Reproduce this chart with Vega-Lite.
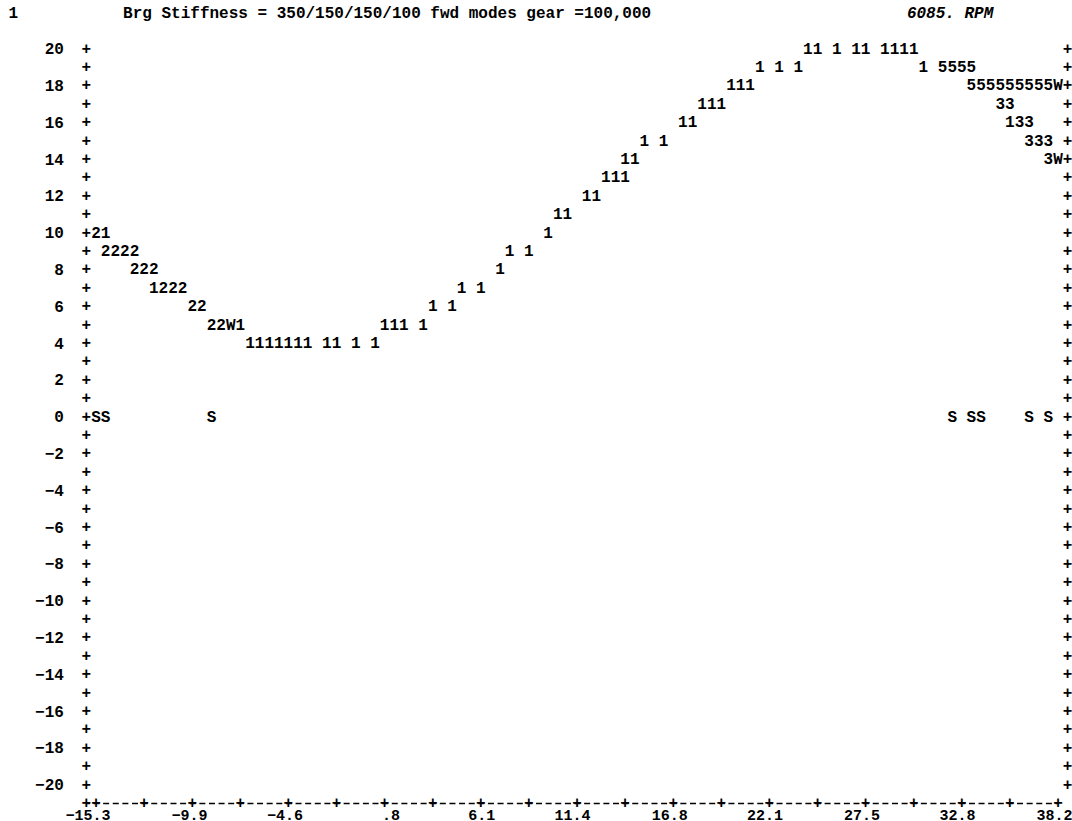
{
  "$schema": "https://vega.github.io/schema/vega-lite/v6.json",
  "width": 971.6,
  "height": 754.4,
  "autosize": {"type": "none"},
  "padding": {"left": 86.4, "top": 48.6, "right": 14, "bottom": 18},
  "background": "white",
  "config": {
    "view": {"stroke": null},
    "text": {"font": "Liberation Mono", "fontSize": 16, "fontWeight": "bold", "color": "black", "align": "center", "baseline": "middle"},
    "axis": {
      "labelFont": "Liberation Mono", "labelFontSize": 16, "labelFontWeight": "bold", "labelColor": "black",
      "grid": false, "ticks": false, "title": null,
      "labelOverlap": false, "labelFlush": false, "labelBound": false
    },
    "axisX": {
      "domain": true, "domainColor": "black", "domainWidth": 1.6,
      "domainDash": [6, 3.62], "domainDashOffset": 3,
      "labelAlign": "right", "labelOffset": 14, "labelPadding": 4, "labelBaseline": "top", "labelFontSize": 15
    },
    "axisY": {
      "domain": false, "labelAlign": "right", "labelBaseline": "middle", "labelPadding": 23
    }
  },
  "datasets": {
    "modes": [
      {"x": -15.3, "y": 10, "ch": "2"}, {"x": -14.765, "y": 10, "ch": "1"},
      {"x": -14.765, "y": 9, "ch": "2"}, {"x": -14.23, "y": 9, "ch": "2"}, {"x": -13.695, "y": 9, "ch": "2"}, {"x": -13.16, "y": 9, "ch": "2"},
      {"x": -13.16, "y": 8, "ch": "2"}, {"x": -12.625, "y": 8, "ch": "2"}, {"x": -12.09, "y": 8, "ch": "2"},
      {"x": -12.09, "y": 7, "ch": "1"}, {"x": -11.555, "y": 7, "ch": "2"}, {"x": -11.02, "y": 7, "ch": "2"}, {"x": -10.485, "y": 7, "ch": "2"},
      {"x": -9.95, "y": 6, "ch": "2"}, {"x": -9.415, "y": 6, "ch": "2"},
      {"x": -8.88, "y": 5, "ch": "2"}, {"x": -8.345, "y": 5, "ch": "2"}, {"x": -7.81, "y": 5, "ch": "W"}, {"x": -7.275, "y": 5, "ch": "1"},
      {"x": -6.74, "y": 4, "ch": "1"}, {"x": -6.205, "y": 4, "ch": "1"}, {"x": -5.67, "y": 4, "ch": "1"}, {"x": -5.135, "y": 4, "ch": "1"},
      {"x": -4.6, "y": 4, "ch": "1"}, {"x": -4.065, "y": 4, "ch": "1"}, {"x": -3.53, "y": 4, "ch": "1"},
      {"x": -2.46, "y": 4, "ch": "1"}, {"x": -1.925, "y": 4, "ch": "1"}, {"x": -0.855, "y": 4, "ch": "1"}, {"x": 0.215, "y": 4, "ch": "1"},
      {"x": 0.75, "y": 5, "ch": "1"}, {"x": 1.285, "y": 5, "ch": "1"}, {"x": 1.82, "y": 5, "ch": "1"}, {"x": 2.89, "y": 5, "ch": "1"},
      {"x": 3.425, "y": 6, "ch": "1"}, {"x": 4.495, "y": 6, "ch": "1"},
      {"x": 5.03, "y": 7, "ch": "1"}, {"x": 6.1, "y": 7, "ch": "1"},
      {"x": 7.17, "y": 8, "ch": "1"},
      {"x": 7.705, "y": 9, "ch": "1"}, {"x": 8.775, "y": 9, "ch": "1"},
      {"x": 9.845, "y": 10, "ch": "1"},
      {"x": 10.38, "y": 11, "ch": "1"}, {"x": 10.915, "y": 11, "ch": "1"},
      {"x": 11.985, "y": 12, "ch": "1"}, {"x": 12.52, "y": 12, "ch": "1"},
      {"x": 13.055, "y": 13, "ch": "1"}, {"x": 13.59, "y": 13, "ch": "1"}, {"x": 14.125, "y": 13, "ch": "1"},
      {"x": 14.125, "y": 14, "ch": "1"}, {"x": 14.66, "y": 14, "ch": "1"},
      {"x": 15.195, "y": 15, "ch": "1"}, {"x": 16.265, "y": 15, "ch": "1"},
      {"x": 17.335, "y": 16, "ch": "1"}, {"x": 17.87, "y": 16, "ch": "1"},
      {"x": 18.405, "y": 17, "ch": "1"}, {"x": 18.94, "y": 17, "ch": "1"}, {"x": 19.475, "y": 17, "ch": "1"},
      {"x": 20.01, "y": 18, "ch": "1"}, {"x": 20.545, "y": 18, "ch": "1"}, {"x": 21.08, "y": 18, "ch": "1"},
      {"x": 21.615, "y": 19, "ch": "1"}, {"x": 22.685, "y": 19, "ch": "1"}, {"x": 23.755, "y": 19, "ch": "1"},
      {"x": 24.29, "y": 20, "ch": "1"}, {"x": 24.825, "y": 20, "ch": "1"}, {"x": 25.895, "y": 20, "ch": "1"},
      {"x": 26.965, "y": 20, "ch": "1"}, {"x": 27.5, "y": 20, "ch": "1"},
      {"x": 28.57, "y": 20, "ch": "1"}, {"x": 29.105, "y": 20, "ch": "1"}, {"x": 29.64, "y": 20, "ch": "1"}, {"x": 30.175, "y": 20, "ch": "1"},
      {"x": 30.71, "y": 19, "ch": "1"},
      {"x": 31.78, "y": 19, "ch": "5"}, {"x": 32.315, "y": 19, "ch": "5"}, {"x": 32.85, "y": 19, "ch": "5"}, {"x": 33.385, "y": 19, "ch": "5"},
      {"x": 33.385, "y": 18, "ch": "5"}, {"x": 33.92, "y": 18, "ch": "5"}, {"x": 34.455, "y": 18, "ch": "5"}, {"x": 34.99, "y": 18, "ch": "5"},
      {"x": 35.525, "y": 18, "ch": "5"}, {"x": 36.06, "y": 18, "ch": "5"}, {"x": 36.595, "y": 18, "ch": "5"}, {"x": 37.13, "y": 18, "ch": "5"},
      {"x": 37.665, "y": 18, "ch": "5"}, {"x": 38.2, "y": 18, "ch": "W"},
      {"x": 34.99, "y": 17, "ch": "3"}, {"x": 35.525, "y": 17, "ch": "3"},
      {"x": 35.525, "y": 16, "ch": "1"}, {"x": 36.06, "y": 16, "ch": "3"}, {"x": 36.595, "y": 16, "ch": "3"},
      {"x": 36.595, "y": 15, "ch": "3"}, {"x": 37.13, "y": 15, "ch": "3"}, {"x": 37.665, "y": 15, "ch": "3"},
      {"x": 37.665, "y": 14, "ch": "3"}, {"x": 38.2, "y": 14, "ch": "W"},
      {"x": -15.3, "y": 0, "ch": "S"}, {"x": -14.765, "y": 0, "ch": "S"}, {"x": -8.88, "y": 0, "ch": "S"},
      {"x": 32.315, "y": 0, "ch": "S"}, {"x": 33.385, "y": 0, "ch": "S"}, {"x": 33.92, "y": 0, "ch": "S"},
      {"x": 36.595, "y": 0, "ch": "S"}, {"x": 37.665, "y": 0, "ch": "S"}
    ],
    "frameRows": [
      {"y": 20}, {"y": 19}, {"y": 18}, {"y": 17}, {"y": 16}, {"y": 15}, {"y": 14}, {"y": 13}, {"y": 12}, {"y": 11},
      {"y": 10}, {"y": 9}, {"y": 8}, {"y": 7}, {"y": 6}, {"y": 5}, {"y": 4}, {"y": 3}, {"y": 2}, {"y": 1},
      {"y": 0}, {"y": -1}, {"y": -2}, {"y": -3}, {"y": -4}, {"y": -5}, {"y": -6}, {"y": -7}, {"y": -8}, {"y": -9},
      {"y": -10}, {"y": -11}, {"y": -12}, {"y": -13}, {"y": -14}, {"y": -15}, {"y": -16}, {"y": -17}, {"y": -18}, {"y": -19},
      {"y": -20}
    ],
    "xTicks": [
      {"x": -15.835}, {"x": -15.3}, {"x": -12.625}, {"x": -9.95}, {"x": -7.275}, {"x": -4.6}, {"x": -1.925}, {"x": 0.75},
      {"x": 3.425}, {"x": 6.1}, {"x": 8.775}, {"x": 11.45}, {"x": 14.125}, {"x": 16.8}, {"x": 19.475}, {"x": 22.15},
      {"x": 24.825}, {"x": 27.5}, {"x": 30.175}, {"x": 32.85}, {"x": 35.525}, {"x": 38.2}
    ],
    "header": [
      {"page": "1", "title": "Brg Stiffness = 350/150/150/100 fwd modes gear =100,000", "speed": "6085. RPM"}
    ]
  },
  "layer": [
    {
      "data": {"name": "modes"},
      "mark": {"type": "text"},
      "encoding": {
        "x": {
          "field": "x", "type": "quantitative",
          "scale": {"domain": [-15.835, 38.2], "nice": false, "zero": false},
          "axis": {"values": [-15.3, -9.9, -4.6, 0.8, 6.1, 11.4, 16.8, 22.1, 27.5, 32.8, 38.2], "labelExpr": "datum.value > 0 && datum.value < 1 ? substring(format(datum.value, '.1f'), 1) : format(datum.value, '.1f')", "labelOverlap": false}
        },
        "y": {
          "field": "y", "type": "quantitative",
          "scale": {"domain": [-21, 20], "nice": false, "zero": false},
          "axis": {"values": [-20, -18, -16, -14, -12, -10, -8, -6, -4, -2, 0, 2, 4, 6, 8, 10, 12, 14, 16, 18, 20], "format": "d", "labelOverlap": false}
        },
        "text": {"field": "ch"}
      }
    },
    {
      "data": {"name": "frameRows"},
      "mark": {"type": "text", "text": "+"},
      "encoding": {
        "x": {"datum": -15.835, "type": "quantitative", "axis": {"values": [-15.3, -9.9, -4.6, 0.8, 6.1, 11.4, 16.8, 22.1, 27.5, 32.8, 38.2], "labelExpr": "datum.value > 0 && datum.value < 1 ? substring(format(datum.value, '.1f'), 1) : format(datum.value, '.1f')", "labelOverlap": false}},
        "y": {"field": "y", "type": "quantitative", "axis": {"values": [-20, -18, -16, -14, -12, -10, -8, -6, -4, -2, 0, 2, 4, 6, 8, 10, 12, 14, 16, 18, 20], "format": "d", "labelOverlap": false}}
      }
    },
    {
      "data": {"name": "frameRows"},
      "mark": {"type": "text", "text": "+"},
      "encoding": {
        "x": {"datum": 38.735, "type": "quantitative", "axis": {"values": [-15.3, -9.9, -4.6, 0.8, 6.1, 11.4, 16.8, 22.1, 27.5, 32.8, 38.2], "labelExpr": "datum.value > 0 && datum.value < 1 ? substring(format(datum.value, '.1f'), 1) : format(datum.value, '.1f')", "labelOverlap": false}},
        "y": {"field": "y", "type": "quantitative", "axis": {"values": [-20, -18, -16, -14, -12, -10, -8, -6, -4, -2, 0, 2, 4, 6, 8, 10, 12, 14, 16, 18, 20], "format": "d", "labelOverlap": false}}
      }
    },
    {
      "data": {"name": "xTicks"},
      "mark": {"type": "text", "text": "+"},
      "encoding": {
        "x": {"field": "x", "type": "quantitative", "axis": {"values": [-15.3, -9.9, -4.6, 0.8, 6.1, 11.4, 16.8, 22.1, 27.5, 32.8, 38.2], "labelExpr": "datum.value > 0 && datum.value < 1 ? substring(format(datum.value, '.1f'), 1) : format(datum.value, '.1f')", "labelOverlap": false}},
        "y": {"datum": -21, "type": "quantitative", "axis": {"values": [-20, -18, -16, -14, -12, -10, -8, -6, -4, -2, 0, 2, 4, 6, 8, 10, 12, 14, 16, 18, 20], "format": "d", "labelOverlap": false}}
      }
    },
    {
      "data": {"name": "header"},
      "mark": {"type": "text"},
      "encoding": {
        "x": {"datum": -19.9, "type": "quantitative", "axis": {"values": [-15.3, -9.9, -4.6, 0.8, 6.1, 11.4, 16.8, 22.1, 27.5, 32.8, 38.2], "labelExpr": "datum.value > 0 && datum.value < 1 ? substring(format(datum.value, '.1f'), 1) : format(datum.value, '.1f')", "labelOverlap": false}},
        "y": {"datum": 21.95, "type": "quantitative", "axis": {"values": [-20, -18, -16, -14, -12, -10, -8, -6, -4, -2, 0, 2, 4, 6, 8, 10, 12, 14, 16, 18, 20], "format": "d", "labelOverlap": false}},
        "text": {"field": "page"}
      }
    },
    {
      "data": {"name": "header"},
      "mark": {"type": "text"},
      "encoding": {
        "x": {"datum": 0.89, "type": "quantitative", "axis": {"values": [-15.3, -9.9, -4.6, 0.8, 6.1, 11.4, 16.8, 22.1, 27.5, 32.8, 38.2], "labelExpr": "datum.value > 0 && datum.value < 1 ? substring(format(datum.value, '.1f'), 1) : format(datum.value, '.1f')", "labelOverlap": false}},
        "y": {"datum": 21.95, "type": "quantitative", "axis": {"values": [-20, -18, -16, -14, -12, -10, -8, -6, -4, -2, 0, 2, 4, 6, 8, 10, 12, 14, 16, 18, 20], "format": "d", "labelOverlap": false}},
        "text": {"field": "title"}
      }
    },
    {
      "data": {"name": "header"},
      "mark": {"type": "text", "fontStyle": "italic"},
      "encoding": {
        "x": {"datum": 32.2, "type": "quantitative", "axis": {"values": [-15.3, -9.9, -4.6, 0.8, 6.1, 11.4, 16.8, 22.1, 27.5, 32.8, 38.2], "labelExpr": "datum.value > 0 && datum.value < 1 ? substring(format(datum.value, '.1f'), 1) : format(datum.value, '.1f')", "labelOverlap": false}},
        "y": {"datum": 21.95, "type": "quantitative", "axis": {"values": [-20, -18, -16, -14, -12, -10, -8, -6, -4, -2, 0, 2, 4, 6, 8, 10, 12, 14, 16, 18, 20], "format": "d", "labelOverlap": false}},
        "text": {"field": "speed"}
      }
    }
  ]
}
